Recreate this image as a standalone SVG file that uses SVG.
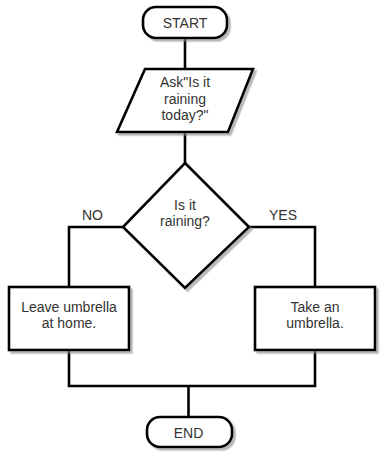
<svg xmlns="http://www.w3.org/2000/svg" width="386" height="454" viewBox="0 0 386 454">
<defs>
<filter id="sh" x="-10%" y="-10%" width="130%" height="130%">
<feDropShadow dx="2.5" dy="2.5" stdDeviation="0.7" flood-color="#888" flood-opacity="0.6"/>
</filter>
</defs>
<style>
.shape{fill:#fff;stroke:#000;stroke-width:2.6;filter:url(#sh)}
.line{fill:none;stroke:#000;stroke-width:2.6}
text{font-family:"Liberation Sans",Arial,sans-serif;font-size:14px;fill:#333;text-anchor:middle}
</style>
<rect width="386" height="454" fill="#fff"/>
<g id="connectors">
<path class="line" d="M185 38 V69"/>
<path class="line" d="M185 132 V163"/>
<path class="line" d="M123 227 H69 V287"/>
<path class="line" d="M249 227 H315 V287"/>
<path class="line" d="M69 350 V386 H315 V350"/>
<path class="line" d="M188.5 386 V417"/>
</g>
<g id="start">
<rect class="shape" x="143" y="7" width="84" height="31" rx="13"/>
<text x="185" y="28">START</text>
</g>
<g id="ask">
<polygon class="shape" points="145,69 253,69 228,132 117,132"/>
<text x="185" y="87">Ask"Is it</text>
<text x="185" y="104">raining</text>
<text x="185" y="120">today?"</text>
</g>
<g id="decision">
<polygon class="shape" points="185,163 249,227 185,288 123,227"/>
<text x="185" y="210">Is it</text>
<text x="185" y="226">raining?</text>
</g>
<g id="labels">
<text x="92.5" y="220">NO</text>
<text x="283" y="220">YES</text>
</g>
<g id="leave">
<rect class="shape" x="9" y="287" width="120" height="63"/>
<text x="69" y="312">Leave umbrella</text>
<text x="69" y="328">at home.</text>
</g>
<g id="take">
<rect class="shape" x="255" y="287" width="120" height="63"/>
<text x="315" y="312">Take an</text>
<text x="315" y="328">umbrella.</text>
</g>
<g id="end">
<rect class="shape" x="147" y="417" width="85" height="30" rx="13"/>
<text x="188.5" y="438">END</text>
</g>
</svg>
